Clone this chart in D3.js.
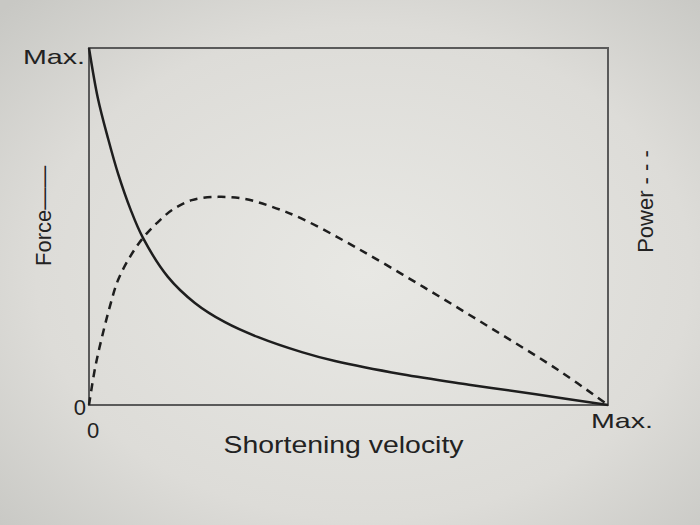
<!DOCTYPE html>
<html>
<head>
<meta charset="utf-8">
<script src="https://cdn.jsdelivr.net/npm/d3@7"></script>
<style>
  body { margin: 0; background: #d8d8d4; }
  text { font-family: "Liberation Sans", Arial, sans-serif; fill: #222; }
</style>
</head>
<body>
<div id="chart"></div>
<script>
// velocity as fraction of max, force and power as fraction of max
var forceV = [0, 0.017, 0.037, 0.056, 0.080, 0.104, 0.152, 0.204, 0.262, 0.326, 0.410, 0.474, 0.603, 0.732, 0.861, 1];
var forceY = [1, 0.860, 0.745, 0.648, 0.548, 0.468, 0.359, 0.286, 0.232, 0.190, 0.148, 0.123, 0.086, 0.057, 0.030, 0];

var powerV = [0, 0.012, 0.025, 0.040, 0.056, 0.079, 0.104, 0.131, 0.160, 0.198, 0.249, 0.301, 0.353, 0.410, 0.516, 0.645, 0.775, 0.904, 1];
var powerY = [0, 0.106, 0.190, 0.275, 0.350, 0.415, 0.468, 0.510, 0.546, 0.574, 0.583, 0.577, 0.555, 0.522, 0.440, 0.330, 0.215, 0.098, 0];

var xTicks = ["0", "Max."];
var yTicks = ["0", "Max."];

var margin = {top: 48, right: 92, bottom: 120, left: 89},
    width = 700 - margin.left - margin.right,
    height = 525 - margin.top - margin.bottom;

var svgRoot = d3.select("#chart").append("svg")
    .attr("width", 700)
    .attr("height", 525);

var grad = svgRoot.append("defs").append("radialGradient")
    .attr("id", "bg")
    .attr("cx", "52%").attr("cy", "52%").attr("r", "72%");
grad.append("stop").attr("offset", "0%").attr("stop-color", "#e8e8e4");
grad.append("stop").attr("offset", "65%").attr("stop-color", "#dddcd8");
grad.append("stop").attr("offset", "100%").attr("stop-color", "#c8c8c4");

svgRoot.append("rect")
    .attr("width", 700).attr("height", 525)
    .attr("fill", "url(#bg)");

var svg = svgRoot.append("g")
    .attr("transform", "translate(" + margin.left + "," + margin.top + ")");

var x = d3.scaleLinear().domain([0, 1]).range([0, width]);
var y = d3.scaleLinear().domain([0, 1]).range([height, 0]);

// frame
svg.append("rect")
    .attr("x", 0).attr("y", 0)
    .attr("width", width).attr("height", height)
    .attr("fill", "none")
    .attr("stroke", "#5a5a5a")
    .attr("stroke-width", 2);

var line = d3.line()
    .x(function(d) { return x(d[0]); })
    .y(function(d) { return y(d[1]); })
    .curve(d3.curveCatmullRom.alpha(0.5));

var force = forceV.map(function(v, i) { return [v, forceY[i]]; });
var power = powerV.map(function(v, i) { return [v, powerY[i]]; });

svg.append("path")
    .datum(force)
    .attr("fill", "none")
    .attr("stroke", "#1e1e1e")
    .attr("stroke-width", 2.5)
    .attr("d", line);

svg.append("path")
    .datum(power)
    .attr("fill", "none")
    .attr("stroke", "#1e1e1e")
    .attr("stroke-width", 2.5)
    .attr("stroke-dasharray", "8,6")
    .attr("d", line);

// tick labels
svg.append("text")
    .attr("x", -4).attr("y", y(1) + 16)
    .attr("text-anchor", "end")
    .attr("textLength", 62).attr("lengthAdjust", "spacingAndGlyphs")
    .style("font-size", "21px")
    .text(yTicks[1]);

svg.append("text")
    .attr("x", -3).attr("y", y(0) + 10)
    .attr("text-anchor", "end")
    .style("font-size", "22px")
    .text(yTicks[0]);

svg.append("text")
    .attr("x", x(0) + 4).attr("y", height + 33)
    .attr("text-anchor", "middle")
    .style("font-size", "22px")
    .text(xTicks[0]);

svg.append("text")
    .attr("x", x(1) + 14).attr("y", height + 23)
    .attr("text-anchor", "middle")
    .attr("textLength", 62).attr("lengthAdjust", "spacingAndGlyphs")
    .style("font-size", "21px")
    .text(xTicks[1]);

// axis titles
svg.append("text")
    .attr("x", width / 2 - 5).attr("y", height + 48)
    .attr("text-anchor", "middle")
    .attr("textLength", 240).attr("lengthAdjust", "spacingAndGlyphs")
    .style("font-size", "24px")
    .text("Shortening velocity");

svg.append("text")
    .attr("transform", "translate(-38," + (height * 0.47) + ") rotate(-90)")
    .attr("text-anchor", "middle")
    .style("font-size", "22px")
    .text("Force\u2014\u2014");

svg.append("text")
    .attr("transform", "translate(" + (width + 45) + "," + (height * 0.43) + ") rotate(-90)")
    .attr("text-anchor", "middle")
    .style("font-size", "22px")
    .text("Power - - -");
</script>
</body>
</html>
